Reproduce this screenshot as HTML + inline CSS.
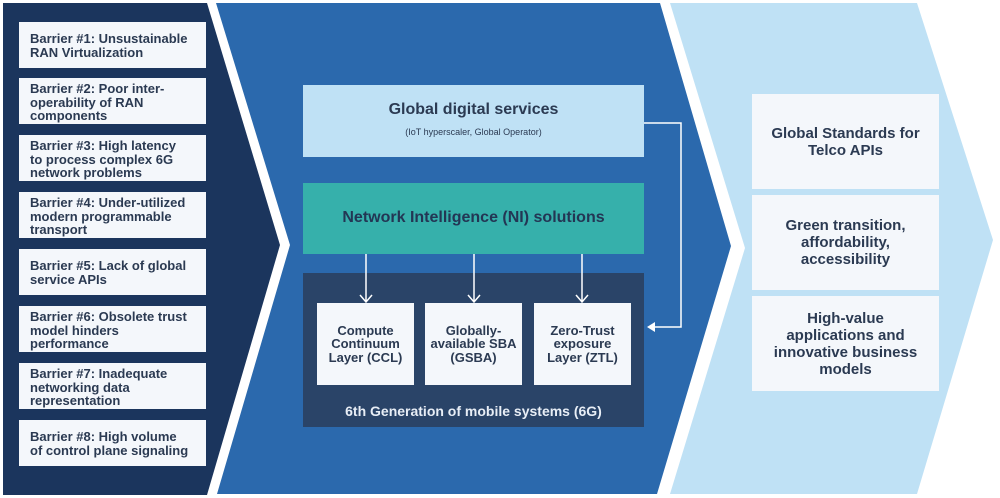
<!DOCTYPE html>
<html><head><meta charset="utf-8"><style>
body{margin:0;width:1000px;height:498px;background:#fff;position:relative;overflow:hidden;font-family:"Liberation Sans",sans-serif;font-weight:bold;}
.b{position:absolute;background:#f4f7fb;color:#2b3a52;box-sizing:border-box;}
.l{left:19px;width:187px;height:46px;padding:4px 0 0 11px;font-size:13px;line-height:13.5px;white-space:nowrap;}
.r{left:752px;width:187px;height:95px;display:flex;align-items:center;justify-content:center;text-align:center;font-size:15px;line-height:17px;}
.i{top:303px;height:82px;width:97px;display:flex;align-items:center;justify-content:center;text-align:center;font-size:13px;line-height:13.5px;white-space:nowrap;}
</style></head><body>
<svg width="1000" height="498" style="position:absolute;left:0;top:0">
<polygon points="3,3 207,3 280,245 207,495 3,495" fill="#1b355d"/>
<polygon points="216,3 660,3 731,246 657,494 217,494 290,245" fill="#2b69ad"/>
<polygon points="670,3 917,3 993,240 917,494 670,494 745,248" fill="#bfe1f5"/>
<rect x="303" y="85" width="341" height="72" fill="#bfe1f5"/>
<rect x="303" y="183" width="341" height="71" fill="#36b0ab"/>
<rect x="303" y="273" width="341" height="154" fill="#2a4468"/>
<g stroke="#fff" stroke-width="1.5" fill="none">
<path d="M366 254V302M360 295l6 7 6-7M474 254V302M468 295l6 7 6-7M582 254V302M576 295l6 7 6-7"/>
<path d="M644 123H681V327H650"/>
</g>
<polygon points="647,327 655,322 655,332" fill="#fff"/>
</svg>
<div class="b l" style="top:22px;padding-top:10px">Barrier #1: Unsustainable<br>RAN Virtualization</div>
<div class="b l" style="top:78px">Barrier #2: Poor inter-<br>operability of RAN<br>components</div>
<div class="b l" style="top:135px">Barrier #3: High latency<br>to process complex 6G<br>network problems</div>
<div class="b l" style="top:192px">Barrier #4: Under-utilized<br>modern programmable<br>transport</div>
<div class="b l" style="top:249px;padding-top:10px">Barrier #5: Lack of global<br>service APIs</div>
<div class="b l" style="top:306px">Barrier #6: Obsolete trust<br>model hinders<br>performance</div>
<div class="b l" style="top:363px">Barrier #7: Inadequate<br>networking data<br>representation</div>
<div class="b l" style="top:420px;padding-top:10px">Barrier #8: High volume<br>of control plane signaling</div>
<div style="position:absolute;left:303px;top:101px;width:341px;text-align:center;color:#2b3a52;font-size:16px">Global digital services</div>
<div style="position:absolute;left:303px;top:127px;width:341px;text-align:center;color:#2b3a52;font-size:9px;font-weight:normal">(IoT hyperscaler, Global Operator)</div>
<div style="position:absolute;left:303px;top:209px;width:341px;text-align:center;color:#233654;font-size:16px">Network Intelligence (NI) solutions</div>
<div class="b i" style="left:317px">Compute<br>Continuum<br>Layer (CCL)</div>
<div class="b i" style="left:425px">Globally-<br>available SBA<br>(GSBA)</div>
<div class="b i" style="left:534px">Zero-Trust<br>exposure<br>Layer (ZTL)</div>
<div style="position:absolute;left:303px;top:403px;width:341px;text-align:center;color:#e8eef6;font-size:14px">6th Generation of mobile systems (6G)</div>
<div class="b r" style="top:94px">Global Standards for<br>Telco APIs</div>
<div class="b r" style="top:195px">Green transition,<br>affordability,<br>accessibility</div>
<div class="b r" style="top:296px">High-value<br>applications and<br>innovative business<br>models</div>
</body></html>
